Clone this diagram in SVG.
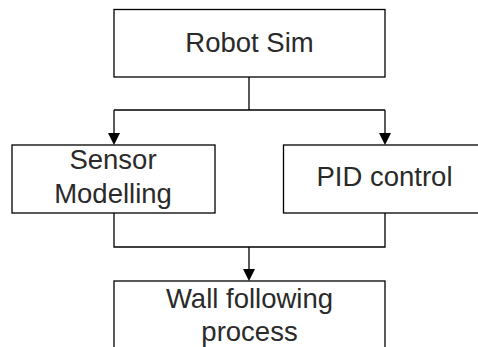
<svg xmlns="http://www.w3.org/2000/svg" width="478" height="347" viewBox="0 0 478 347">
<style>
.box{fill:#fff;stroke:#000;stroke-width:1.3}
.lbl{font-family:"Liberation Sans",Arial,sans-serif;font-size:27.5px;fill:#2a2a2a;text-anchor:middle}
.con{fill:none;stroke:#000;stroke-width:1.3}
</style>
<defs>
<marker id="arr" markerUnits="userSpaceOnUse" markerWidth="14" markerHeight="14" viewBox="-7 -12 14 14" refX="0" refY="0" orient="auto-start-reverse">
<path d="M0,0 L-6,-11 L0,-8.5 L6,-11 Z" fill="#000" transform="rotate(-90)"/>
</marker>
</defs>
<rect width="478" height="347" fill="#fff"/>
<g id="connectors">
<path class="con" d="M249,77 V110 M114,110 H385"/>
<path d="M114,110 V134" class="con"/>
<path d="M385,110 V134" class="con"/>
<path d="M114,133 L108,133 L114,145 L120,133 Z" fill="#000"/>
<path d="M385,133 L379,133 L385,145 L391,133 Z" fill="#000"/>
<path class="con" d="M114,213 V247 H385 V213 M249,247 V270"/>
<path d="M249,269 L243,269 L249,281 L255,269 Z" fill="#000"/>
</g>
<g id="robot-sim">
<rect class="box" x="114" y="9.5" width="271" height="67.5"/>
<text class="lbl" x="249.5" y="51.5">Robot Sim</text>
</g>
<g id="sensor-modelling">
<rect class="box" x="12" y="145" width="203" height="68"/>
<text class="lbl" x="113" y="168.5">Sensor</text>
<text class="lbl" x="113" y="203">Modelling</text>
</g>
<g id="pid-control">
<rect class="box" x="283.5" y="145" width="204" height="68"/>
<text class="lbl" x="384.5" y="186">PID control</text>
</g>
<g id="wall-following">
<rect class="box" x="114" y="281" width="271" height="80"/>
<text class="lbl" x="249.5" y="308">Wall following</text>
<text class="lbl" x="249.5" y="340.5">process</text>
</g>
</svg>
